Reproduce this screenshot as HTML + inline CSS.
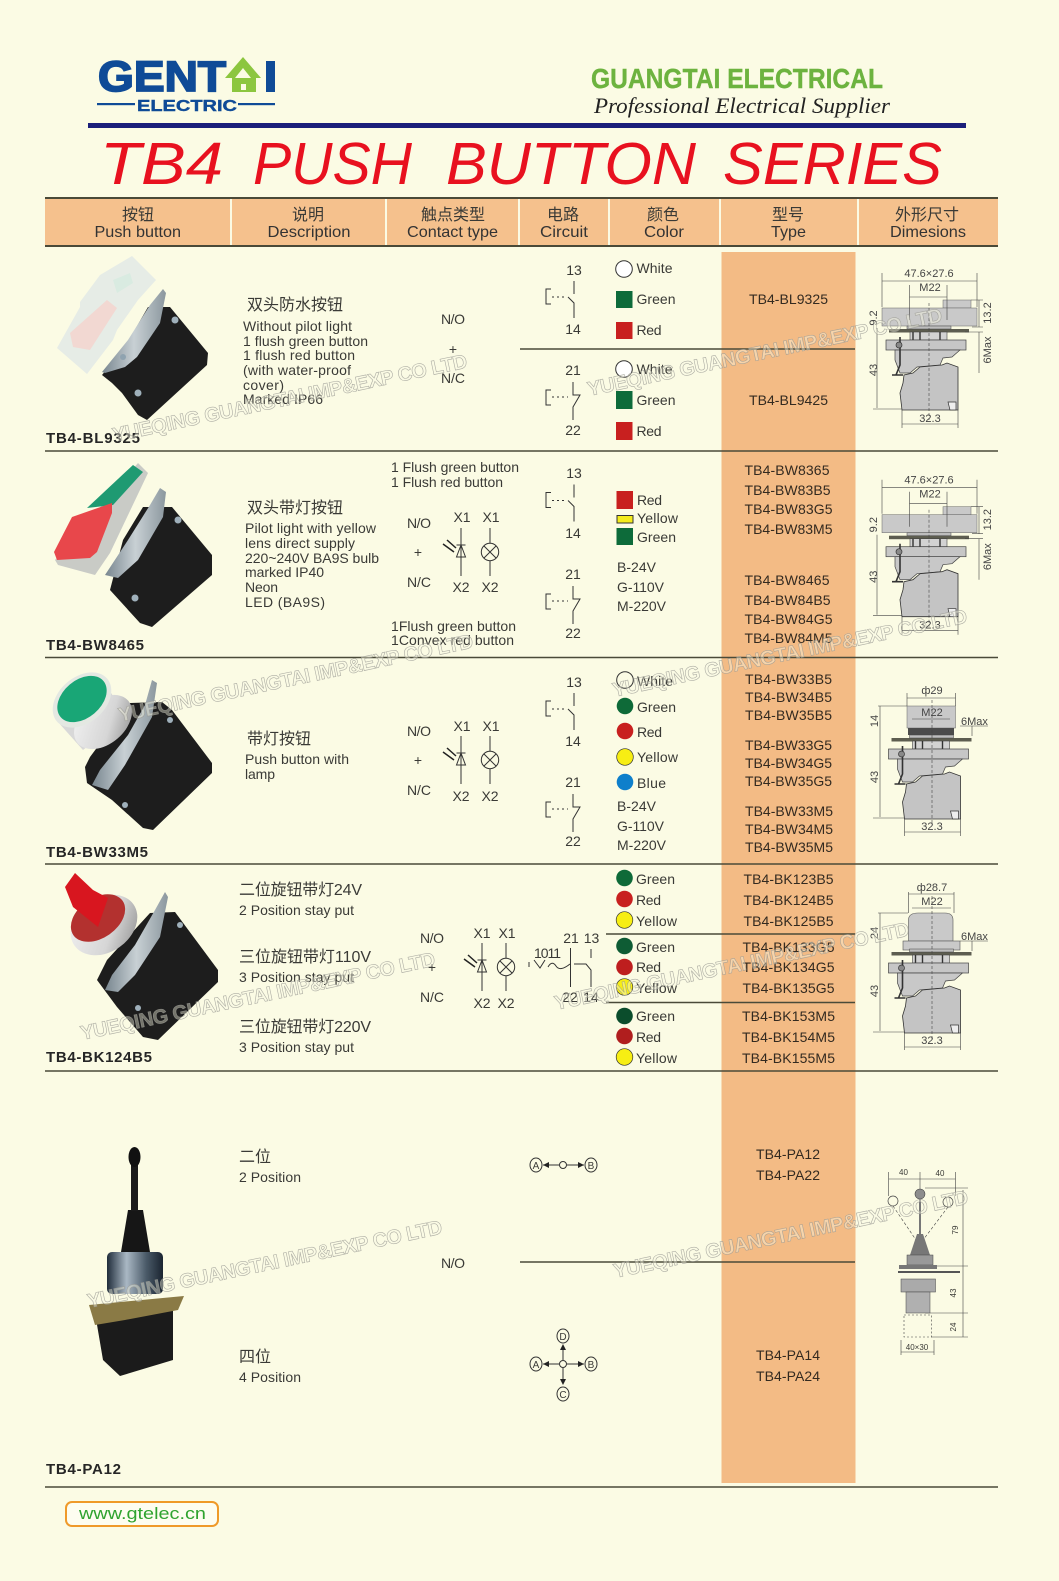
<!DOCTYPE html>
<html><head><meta charset="utf-8"><style>
html,body{margin:0;padding:0;background:#fbfbe4}
svg{display:block}
text{font-family:"Liberation Sans","Noto Sans CJK SC",sans-serif;fill:#3a3a36;font-size:14px}
.z{font-size:16px}
.b{font-weight:bold;font-size:15px;fill:#262626}
.h{font-size:16px;fill:#333}
.c{text-anchor:middle}
.ty{font-size:14px;fill:#332a20}
.d{font-size:11px;fill:#444}
.w{font-weight:bold;font-size:20px;fill:#fbfbe4;fill-opacity:.4;stroke:#9a9a94;stroke-width:.6;stroke-opacity:.8}
.tt{font-size:59px;fill:#e8111f;font-style:italic}
.l{stroke:#4a4a38;stroke-width:1.5}
.k{stroke:#333;stroke-width:1;fill:none}
</style></head><body>
<svg xmlns="http://www.w3.org/2000/svg" width="1059" height="1581" viewBox="0 0 1059 1581">
<defs>
<linearGradient id="sil" x1="0" y1="0" x2="1" y2="1"><stop offset="0" stop-color="#f4f4f4"/><stop offset=".6" stop-color="#d6d6d6"/><stop offset="1" stop-color="#8a8a8a"/></linearGradient>
<linearGradient id="brk" x1="0" y1="0" x2="1" y2="0"><stop offset="0" stop-color="#78868f"/><stop offset=".5" stop-color="#c8d0d4"/><stop offset="1" stop-color="#8b979e"/></linearGradient>
<linearGradient id="cyl" x1="0" y1="0" x2="1" y2="0"><stop offset="0" stop-color="#1f2c3a"/><stop offset=".35" stop-color="#aab8c4"/><stop offset=".7" stop-color="#4a5a68"/><stop offset="1" stop-color="#1a2430"/></linearGradient>
<g id="no"><path class="k" d="M574 281V294M568 297L574 303V318M551 289H546V304H551"/><path class="k" stroke-dasharray="2 3" d="M552 297H567"/></g>
<g id="nc"><path class="k" d="M573 382V395H580L573 407V420M551 390H546V405H551"/><path class="k" stroke-dasharray="2 3" d="M552 397H568"/></g>
<g id="led"><path class="k" d="M0 -24V24M-4.5 -7H4.5M-4.5 5H4.5L0 -7Z"/><path d="M-18 -8L-7 0M-14 -12L-5 -4" stroke="#222" stroke-width="1.5"/></g>
<g id="lamp"><path class="k" d="M0 -24V-9M0 9V24M-6 -6L6 6M6 -6L-6 6"/><circle class="k" r="8.7"/></g>
<g id="low">
<rect x="889" y="329" width="80" height="3.5" fill="#5d5d50"/>
<rect x="907" y="326" width="44" height="3" fill="#bdbdbd" stroke="#444" stroke-width=".5"/>
<rect x="910" y="332" width="37" height="8" fill="#d2d2d2" stroke="#444" stroke-width=".6"/>
<path d="M913 332V340M920 332V340M940 332V340" stroke="#333" stroke-width="1.4"/>
<rect x="886" y="340" width="80" height="10" fill="#c6c6c6" stroke="#444" stroke-width=".7"/>
<path d="M895 350H960L952 357L943 358L940 365L917 367L910 373H900L895 360Z" fill="#c8c8c8" stroke="#444" stroke-width=".7"/>
<path d="M902 410L900 393L903 383L904 375L913 373L920 367L942 365L947 363L958 367V410Z" fill="#c4c4c4" stroke="#333" stroke-width=".8"/>
<path d="M900 337V365L896 375M892 375H903" fill="none" stroke="#333" stroke-width="1.6"/>
<circle cx="899" cy="345" r="3" fill="#888" stroke="#333" stroke-width=".7"/>
<path d="M948 402H956V410H950Z" fill="#eee" stroke="#333" stroke-width=".7"/>
</g>
<g id="dimA">
<rect x="943" y="300" width="28" height="8" fill="#c9c9c9" stroke="#666" stroke-width=".5"/>
<rect x="882" y="308" width="95" height="18" fill="#c9c9c9" stroke="#666" stroke-width=".5"/>
<use href="#low"/>
<path d="M882 273V307M977 273V307M909.5 285V320M947 285V320M882 281H977M909.5 297H947M902 410V428M958 410V428M902 424H958M873 409H902M877 328V408M979 300V327M979 332V373M971 300H983M972 327H983M965 332H983" stroke="#444" stroke-width=".6" fill="none"/>
<path d="M929 303V420" stroke="#444" stroke-width=".6" stroke-dasharray="3 2" fill="none"/>
<text class="d c" x="929" y="277">47.6×27.6</text><text class="d c" x="930" y="291">M22</text><text class="d c" x="930" y="422">32.3</text>
<text class="d c" transform="translate(877 318) rotate(-90)">9.2</text>
<text class="d c" transform="translate(991 313) rotate(-90)">13.2</text>
<text class="d c" transform="translate(991 350) rotate(-90)">6Max</text>
<text class="d c" transform="translate(877 370) rotate(-90)">43</text>
</g>
</defs>
<rect width="1059" height="1581" fill="#fbfbe4"/>

<!-- logo -->
<text x="98" y="91" textLength="128" lengthAdjust="spacingAndGlyphs" style="font-size:43px;font-weight:bold;fill:#0f4b97;stroke:#0f4b97;stroke-width:1.8">GENT</text>
<path d="M243 57L261 78H256V92H232V78H225Z" fill="#8cc63f"/>
<path d="M243 68L235 78H251Z" fill="#fbfbe4"/>
<rect x="241" y="84" width="5" height="6" fill="#fbfbe4"/>
<rect x="266" y="61" width="9" height="31" fill="#0f4b97"/>
<rect x="97" y="103" width="38" height="2.2" fill="#0f4b97"/><rect x="238" y="103" width="37" height="2.2" fill="#0f4b97"/>
<text x="137" y="111" textLength="100" lengthAdjust="spacingAndGlyphs" style="font-size:16px;font-weight:bold;fill:#0f4b97;stroke:#0f4b97;stroke-width:.4">ELECTRIC</text>
<text x="591" y="88" textLength="292" lengthAdjust="spacingAndGlyphs" style="font-size:28px;font-weight:bold;fill:#6db33f;stroke:#6db33f;stroke-width:.4">GUANGTAI ELECTRICAL</text>
<text x="594" y="113" textLength="296" lengthAdjust="spacingAndGlyphs" style="font-family:'Liberation Serif',serif;font-style:italic;font-size:22px;fill:#222">Professional Electrical Supplier</text>
<rect x="88" y="123" width="878" height="5" fill="#1b1f7a"/>
<!-- title -->
<text class="tt" x="100" y="184" textLength="123" lengthAdjust="spacingAndGlyphs">TB4</text>
<text class="tt" x="253" y="184" textLength="159" lengthAdjust="spacingAndGlyphs">PUSH</text>
<text class="tt" x="446" y="184" textLength="250" lengthAdjust="spacingAndGlyphs">BUTTON</text>
<text class="tt" x="723" y="184" textLength="219" lengthAdjust="spacingAndGlyphs">SERIES</text>

<!-- header -->
<rect x="45" y="198" width="953" height="47" fill="#f5c18d"/>
<rect x="45" y="197" width="953" height="2" fill="#4a4a38"/><rect x="45" y="245" width="953" height="2" fill="#4a4a38"/>
<g fill="#fbfbe4"><rect x="230" y="199" width="2" height="46"/><rect x="385" y="199" width="2" height="46"/><rect x="518" y="199" width="2" height="46"/><rect x="608" y="199" width="2" height="46"/><rect x="719" y="199" width="2" height="46"/><rect x="857" y="199" width="2" height="46"/></g>
<text class="z c" x="138" y="220">按钮</text><text class="z c" x="308" y="220">说明</text><text class="z c" x="453" y="220">触点类型</text><text class="z c" x="563" y="220">电路</text><text class="z c" x="663" y="220">颜色</text><text class="z c" x="788" y="220">型号</text><text class="z c" x="927" y="220">外形尺寸</text>
<text class="h" x="94.5" y="237" textLength="86.5" lengthAdjust="spacingAndGlyphs">Push button</text>
<text class="h" x="267.5" y="237" textLength="83" lengthAdjust="spacingAndGlyphs">Description</text>
<text class="h" x="407" y="237" textLength="91" lengthAdjust="spacingAndGlyphs">Contact type</text>
<text class="h" x="540" y="237" textLength="48" lengthAdjust="spacingAndGlyphs">Circuit</text>
<text class="h" x="644" y="237" textLength="40" lengthAdjust="spacingAndGlyphs">Color</text>
<text class="h" x="771" y="237" textLength="35" lengthAdjust="spacingAndGlyphs">Type</text>
<text class="h" x="890" y="237" textLength="76" lengthAdjust="spacingAndGlyphs">Dimesions</text>

<!-- type column -->
<rect x="721.5" y="252" width="134" height="1231" fill="#f3bb85"/>

<!-- lines -->
<g class="l">
<line x1="45" y1="451" x2="998" y2="451"/><line x1="45" y1="657.5" x2="998" y2="657.5"/><line x1="45" y1="864" x2="998" y2="864"/><line x1="45" y1="1071" x2="998" y2="1071"/><line x1="45" y1="1487" x2="998" y2="1487"/>
<line x1="520" y1="349" x2="855" y2="349"/><line x1="606" y1="934" x2="855" y2="934"/><line x1="606" y1="1002.5" x2="855" y2="1002.5"/><line x1="520" y1="1262" x2="855" y2="1262"/>
</g>

<!-- photo 1 -->
<polygon points="148,307 170,307 208,353 207,365 147,420 138,415 122,393 112,383 102,375 125,347" fill="#1d1d1d"/>
<polygon points="163,289 166,293 160,323 137,357 125,367 105,373 102,372 128,340 150,305" fill="url(#brk)"/>
<circle cx="175" cy="320" r="3.5" fill="#9fb0bb"/><circle cx="138" cy="393" r="3.5" fill="#9fb0bb"/><circle cx="123" cy="357" r="3" fill="#8fa3b0"/>
<polygon points="132,256 156,280 138,300 117,330 113,340 87,374 57,348 80,307 80,302 100,275" fill="#e6ece6"/>
<polygon points="70,333 107,300 117,308 90,350 73,347" fill="#f2d8d2"/>
<polygon points="113,280 130,273 133,283 117,293" fill="#d9ebe1"/>
<!-- photo 2 -->
<polygon points="143,507 172,507 212,555 212,575 152,627 140,623 110,590 123,540" fill="#1d1d1d"/>
<polygon points="160,488 166,492 163,517 138,560 118,578 105,575 128,540 150,505" fill="url(#brk)"/>
<circle cx="178" cy="520" r="3.5" fill="#9fb0bb"/><circle cx="135" cy="598" r="3.5" fill="#9fb0bb"/>
<polygon points="138,463 148,473 110,553 95,575 58,565 55,560" fill="#c9cbc6"/>
<polygon points="87,508 133,465 143,472 113,505" fill="#1f9a72"/>
<polygon points="54,552 72,517 112,503 112,513 97,552 90,558 57,560" fill="#e8474b"/>
<!-- photo 3 -->
<polygon points="162,702 172,710 212,763 212,773 153,830 143,828 112,800 87,783 85,767 90,757 130,703" fill="#1d1d1d"/>
<polygon points="152,680 157,683 152,717 125,765 108,790 92,785 100,770 128,735 145,705" fill="url(#brk)"/>
<circle cx="170" cy="720" r="3" fill="#9fb0bb"/><circle cx="125" cy="805" r="3" fill="#9fb0bb"/>
<polygon points="58,722 83,750 126,716 104,682" fill="#d8d8d8"/>
<ellipse cx="103" cy="722" rx="33" ry="22" transform="rotate(-40 103 722)" fill="url(#sil)"/>
<ellipse cx="82" cy="700" rx="33" ry="23" transform="rotate(-40 82 700)" fill="#e4e8e2"/>
<ellipse cx="82" cy="699" rx="28" ry="19" transform="rotate(-40 82 699)" fill="#19a676"/>
<!-- photo 4 -->
<polygon points="175,912 218,970 218,982 158,1040 143,1037 117,1007 97,980 107,960 150,913" fill="#1d1d1d"/>
<polygon points="165,892 168,897 160,937 135,975 118,992 105,990 112,975 135,945 155,910" fill="url(#brk)"/>
<circle cx="180" cy="925" r="3" fill="#9fb0bb"/><circle cx="138" cy="1008" r="3" fill="#9fb0bb"/>
<ellipse cx="104" cy="925" rx="36" ry="27" transform="rotate(-35 104 925)" fill="url(#sil)"/>
<ellipse cx="98" cy="918" rx="30" ry="20" transform="rotate(-35 98 918)" fill="#b3312f"/>
<polygon points="75,873 93,890 108,898 98,927 73,907 65,887" fill="#d8161f"/>
<!-- photo 5 -->
<polygon points="95,1313 173,1308 173,1360 120,1376 103,1360" fill="#1b1b1b"/>
<polygon points="89,1305 184,1296 178,1310 125,1320 95,1325" fill="#8a7a45"/>
<rect x="107" y="1252" width="56" height="42" rx="5" fill="url(#cyl)"/>
<path d="M121 1252L128 1210H143L150 1252Z" fill="#161616"/>
<rect x="131" y="1165" width="7" height="46" fill="#1a1a1a"/>
<ellipse cx="134.5" cy="1157" rx="6" ry="10" fill="#111"/>

<!-- row 1 text -->
<text class="z" x="247" y="310">双头防水按钮</text>
<text x="243" y="331" textLength="109">Without pilot light</text>
<text x="243" y="346" textLength="125">1 flush green button</text>
<text x="243" y="360" textLength="112">1 flush red button</text>
<text x="243" y="375" textLength="108">(with water-proof</text>
<text x="243" y="390" textLength="41">cover)</text>
<text x="243" y="404" textLength="80">Marked IP66</text>
<text x="441" y="324" textLength="24">N/O</text><text class="c" x="453" y="354">+</text><text x="441" y="383" textLength="24">N/C</text>
<text class="b" x="46" y="443" textLength="94">TB4-BL9325</text>
<!-- row 2 text -->
<text x="391" y="472" textLength="128">1 Flush green button</text>
<text x="391" y="487" textLength="112">1 Flush red button</text>
<text class="z" x="247" y="513">双头带灯按钮</text>
<text x="245" y="533" textLength="131">Pilot light with yellow</text>
<text x="245" y="548" textLength="110">lens direct supply</text>
<text x="245" y="563" textLength="134">220~240V BA9S bulb</text>
<text x="245" y="577" textLength="79">marked IP40</text>
<text x="245" y="592" textLength="33">Neon</text>
<text x="245" y="607" textLength="80">LED  (BA9S)</text>
<text x="407" y="528" textLength="24">N/O</text><text class="c" x="418" y="557">+</text><text x="407" y="587" textLength="24">N/C</text>
<text class="c" x="462" y="522">X1</text><text class="c" x="491" y="522">X1</text><text class="c" x="461" y="592">X2</text><text class="c" x="490" y="592">X2</text>
<use href="#led" x="461" y="552"/><use href="#lamp" x="490" y="552"/>
<text x="391" y="631" textLength="125">1Flush green button</text>
<text x="391" y="645" textLength="123">1Convex red button</text>
<text class="b" x="46" y="650" textLength="98">TB4-BW8465</text>
<!-- row 3 text -->
<text class="z" x="247" y="744">带灯按钮</text>
<text x="245" y="764" textLength="104">Push button with</text>
<text x="245" y="779" textLength="30">lamp</text>
<text x="407" y="736" textLength="24">N/O</text><text class="c" x="418" y="765">+</text><text x="407" y="795" textLength="24">N/C</text>
<text class="c" x="462" y="731">X1</text><text class="c" x="491" y="731">X1</text><text class="c" x="461" y="801">X2</text><text class="c" x="490" y="801">X2</text>
<use href="#led" x="461" y="760"/><use href="#lamp" x="490" y="760"/>
<text class="b" x="46" y="857" textLength="102">TB4-BW33M5</text>
<!-- row 4 text -->
<text class="z" x="239" y="895" textLength="123">二位旋钮带灯24V</text>
<text x="239" y="915" textLength="115">2 Position stay put</text>
<text class="z" x="239" y="962" textLength="132">三位旋钮带灯110V</text>
<text x="239" y="982" textLength="115">3 Position stay put</text>
<text class="z" x="239" y="1032" textLength="132">三位旋钮带灯220V</text>
<text x="239" y="1052" textLength="115">3 Position stay put</text>
<text x="420" y="943" textLength="24">N/O</text><text class="c" x="432" y="972">+</text><text x="420" y="1002" textLength="24">N/C</text>
<text class="c" x="482" y="938">X1</text><text class="c" x="507" y="938">X1</text><text class="c" x="482" y="1008">X2</text><text class="c" x="506" y="1008">X2</text>
<use href="#led" x="482" y="967"/><use href="#lamp" x="506" y="967"/>
<text class="b" x="46" y="1062" textLength="106">TB4-BK124B5</text>
<!-- row 5 text -->
<text class="z" x="239" y="1162">二位</text><text x="239" y="1182" textLength="62">2 Position</text>
<text class="z" x="239" y="1362">四位</text><text x="239" y="1382" textLength="62">4 Position</text>
<text x="441" y="1268" textLength="24">N/O</text>
<text class="b" x="46" y="1474" textLength="75">TB4-PA12</text>

<!-- circuits -->
<use href="#no"/><use href="#nc"/>
<use href="#no" y="203.5"/><use href="#nc" y="204"/>
<use href="#no" y="412"/><use href="#nc" y="412"/>
<g text-anchor="middle">
<text x="574" y="275">13</text><text x="573" y="334">14</text><text x="573" y="375">21</text><text x="573" y="435">22</text>
<text x="574" y="478">13</text><text x="573" y="538">14</text><text x="573" y="579">21</text><text x="573" y="638">22</text>
<text x="574" y="687">13</text><text x="573" y="746">14</text><text x="573" y="787">21</text><text x="573" y="846">22</text>
<text x="571" y="943">21</text><text x="591.5" y="943">13</text><text x="570" y="1002">22</text><text x="591" y="1002">14</text>
</g>
<text x="534" y="958" textLength="27">1011</text>
<path class="k" d="M570.5 948V987M591 949V958M574 964H586L591 970V987M529 962V967M534 960L540 968L545 960M548 967Q552 960 556 966T570 964"/>

<!-- swatches row 1 -->
<circle cx="624" cy="269" r="8.3" fill="#fff" stroke="#333"/><rect x="616" y="291" width="16.5" height="17" fill="#0d6b3a"/><rect x="616" y="322" width="16.5" height="17" fill="#c8201f"/>
<circle cx="624" cy="369" r="8.3" fill="#fff" stroke="#333"/><rect x="616" y="391" width="16.5" height="18" fill="#0d6b3a"/><rect x="616" y="422" width="16.5" height="18" fill="#c8201f"/>
<text x="636.5" y="273" textLength="36">White</text><text x="636.5" y="304" textLength="39">Green</text><text x="636.5" y="335" textLength="25">Red</text>
<text x="636.5" y="374" textLength="36">White</text><text x="636.5" y="405" textLength="39">Green</text><text x="636.5" y="436" textLength="25">Red</text>
<!-- swatches row 2 -->
<rect x="616.5" y="491" width="16.5" height="18" fill="#c8201f"/><rect x="617" y="515.5" width="16" height="7.5" fill="#f4ec1c" stroke="#333"/><rect x="616.5" y="528" width="16.5" height="17" fill="#0d6b3a"/>
<text x="637" y="505" textLength="25">Red</text><text x="637" y="523" textLength="41">Yellow</text><text x="637" y="542" textLength="39">Green</text>
<text x="617" y="572" textLength="39">B-24V</text><text x="617" y="592" textLength="47">G-110V</text><text x="617" y="611" textLength="49">M-220V</text>
<!-- swatches row 3 -->
<circle cx="625" cy="680" r="8.3" fill="#fbfbe4" stroke="#333"/><circle cx="625" cy="706" r="8.3" fill="#0e6a38"/><circle cx="625" cy="731" r="8.3" fill="#c8201f"/><circle cx="625" cy="757" r="8.3" fill="#f7ee13" stroke="#333" stroke-width=".7"/><circle cx="625" cy="782" r="8.3" fill="#0e7fcb"/>
<text x="637" y="686" textLength="36">White</text><text x="637" y="712" textLength="39">Green</text><text x="637" y="737" textLength="25">Red</text><text x="637" y="762" textLength="41">Yellow</text><text x="637" y="788" textLength="29">Blue</text>
<text x="617" y="811" textLength="39">B-24V</text><text x="617" y="831" textLength="47">G-110V</text><text x="617" y="850" textLength="49">M-220V</text>
<!-- swatches row 4 -->
<circle cx="624.5" cy="878" r="8.3" fill="#0e6a38"/><circle cx="624.5" cy="899" r="8.3" fill="#c8201f"/><circle cx="624.5" cy="920" r="8.3" fill="#f7ee13" stroke="#333" stroke-width=".7"/>
<circle cx="624.5" cy="946" r="8.3" fill="#0e5c34"/><circle cx="624.5" cy="967" r="8.3" fill="#be1e1e"/><circle cx="624.5" cy="987" r="8.3" fill="#f7ee13" stroke="#333" stroke-width=".7"/>
<circle cx="624.5" cy="1016" r="8.3" fill="#0b4d2c"/><circle cx="624.5" cy="1036" r="8.3" fill="#b01e1e"/><circle cx="624.5" cy="1057" r="8.3" fill="#f7ee13" stroke="#333" stroke-width=".7"/>
<text x="636" y="884" textLength="39">Green</text><text x="636" y="905" textLength="25">Red</text><text x="636" y="926" textLength="41">Yellow</text>
<text x="636" y="952" textLength="39">Green</text><text x="636" y="972" textLength="25">Red</text><text x="636" y="993" textLength="41">Yellow</text>
<text x="636" y="1021" textLength="39">Green</text><text x="636" y="1042" textLength="25">Red</text><text x="636" y="1063" textLength="41">Yellow</text>

<!-- types -->
<text class="ty" x="749" y="304" textLength="79">TB4-BL9325</text><text class="ty" x="749" y="405" textLength="79">TB4-BL9425</text>
<text class="ty" x="744.5" y="475" textLength="85">TB4-BW8365</text><text class="ty" x="744.5" y="495" textLength="86">TB4-BW83B5</text><text class="ty" x="744.5" y="514" textLength="88">TB4-BW83G5</text><text class="ty" x="744.5" y="534" textLength="88">TB4-BW83M5</text>
<text class="ty" x="744.5" y="585" textLength="85">TB4-BW8465</text><text class="ty" x="744.5" y="605" textLength="86">TB4-BW84B5</text><text class="ty" x="744.5" y="624" textLength="88">TB4-BW84G5</text><text class="ty" x="744.5" y="643" textLength="88">TB4-BW84M5</text>
<text class="ty" x="745" y="684" textLength="87">TB4-BW33B5</text><text class="ty" x="745" y="702" textLength="87">TB4-BW34B5</text><text class="ty" x="745" y="720" textLength="87">TB4-BW35B5</text>
<text class="ty" x="745" y="750" textLength="87">TB4-BW33G5</text><text class="ty" x="745" y="768" textLength="87">TB4-BW34G5</text><text class="ty" x="745" y="786" textLength="87">TB4-BW35G5</text>
<text class="ty" x="745" y="816" textLength="88">TB4-BW33M5</text><text class="ty" x="745" y="834" textLength="88">TB4-BW34M5</text><text class="ty" x="745" y="852" textLength="88">TB4-BW35M5</text>
<text class="ty" x="743.5" y="884" textLength="90">TB4-BK123B5</text><text class="ty" x="743.5" y="905" textLength="90">TB4-BK124B5</text><text class="ty" x="743.5" y="926" textLength="90">TB4-BK125B5</text>
<text class="ty" x="742.5" y="952" textLength="92">TB4-BK133G5</text><text class="ty" x="742.5" y="972" textLength="92">TB4-BK134G5</text><text class="ty" x="742.5" y="993" textLength="92">TB4-BK135G5</text>
<text class="ty" x="742" y="1021" textLength="93">TB4-BK153M5</text><text class="ty" x="742" y="1042" textLength="93">TB4-BK154M5</text><text class="ty" x="742" y="1063" textLength="93">TB4-BK155M5</text>
<text class="ty" x="756" y="1159" textLength="64">TB4-PA12</text><text class="ty" x="756" y="1180" textLength="64">TB4-PA22</text>
<text class="ty" x="756" y="1360" textLength="64">TB4-PA14</text><text class="ty" x="756" y="1381" textLength="64">TB4-PA24</text>

<!-- position symbols -->
<g fill="none" stroke="#333">
<ellipse cx="536" cy="1165" rx="6" ry="7"/><circle cx="563" cy="1165" r="3.5"/><ellipse cx="591" cy="1165" rx="6" ry="7"/>
<path d="M543 1165H559M567 1165H584"/>
<ellipse cx="536" cy="1364" rx="6" ry="7"/><circle cx="563" cy="1364" r="3.5"/><ellipse cx="591" cy="1364" rx="6" ry="7"/><ellipse cx="563" cy="1336" rx="6" ry="7"/><ellipse cx="563" cy="1394" rx="6" ry="7"/>
<path d="M543 1364H559M567 1364H584M563 1347V1360M563 1368V1383"/>
</g>
<path fill="#222" d="M543 1165L549 1162V1168ZM584 1165L578 1162V1168ZM543 1364L549 1361V1367ZM584 1364L578 1361V1367ZM563 1344L560 1350H566ZM563 1385L560 1379H566Z"/>
<text class="c" x="536" y="1169" style="font-size:10px">A</text><text class="c" x="591" y="1169" style="font-size:10px">B</text>
<text class="c" x="536" y="1368" style="font-size:10px">A</text><text class="c" x="591" y="1368" style="font-size:10px">B</text>
<text class="c" x="563" y="1340" style="font-size:10px">D</text><text class="c" x="563" y="1398" style="font-size:10px">C</text>

<!-- dims rows 1, 2 -->
<use href="#dimA"/>
<use href="#dimA" y="206.7"/>
<!-- dim row 3 -->
<rect x="907" y="706" width="48.5" height="22" fill="#c9c9c9" stroke="#666" stroke-width=".5"/>
<rect x="908" y="728" width="46" height="7" fill="#4b4b4b"/>
<use href="#low" x="2.5" y="409"/>
<path d="M907 693V706M955.5 693V706M907 698H955.5M912 719H950M904.5 819V836M960.5 819V836M904.5 832H960.5M878 706H907M880 706V817M873 818H904M972 726V736M960 726H988" stroke="#444" stroke-width=".6" fill="none"/>
<path d="M932 700V825" stroke="#444" stroke-width=".6" stroke-dasharray="3 2" fill="none"/>
<text class="d c" x="932" y="694">ф29</text><text class="d c" x="932" y="716">M22</text><text class="d" x="961" y="725">6Max</text><text class="d c" x="932" y="830">32.3</text>
<text class="d c" transform="translate(878 721) rotate(-90)">14</text><text class="d c" transform="translate(878 777) rotate(-90)">43</text>
<!-- dim row 4 -->
<path d="M908.5 941V920Q908.5 913 918 913H945Q953 913 953 920V941Z" fill="#c9c9c9" stroke="#555" stroke-width=".6"/>
<rect x="903" y="941" width="57" height="9" fill="#c9c9c9" stroke="#555" stroke-width=".6"/>
<use href="#low" x="2.5" y="623"/>
<path d="M908.5 892V913M954 892V913M908.5 894H954M912 908H951M904.5 1033V1050M960.5 1033V1050M904.5 1047H960.5M878 913H908M880 913V1031M873 1032H904M972 941V951M960 941H988" stroke="#444" stroke-width=".6" fill="none"/>
<path d="M932 896V1040" stroke="#444" stroke-width=".6" stroke-dasharray="3 2" fill="none"/>
<text class="d c" x="932" y="891">ф28.7</text><text class="d c" x="932" y="905">M22</text><text class="d" x="961" y="940">6Max</text><text class="d c" x="932" y="1044">32.3</text>
<text class="d c" transform="translate(878 933) rotate(-90)">24</text><text class="d c" transform="translate(878 991) rotate(-90)">43</text>
<!-- dim joystick -->
<g stroke="#444" stroke-width=".6" fill="none">
<path d="M888.6 1172V1196M920 1172V1190M955.5 1172V1196M888.6 1179H955.5M963 1190V1337M925 1188H968M905 1266H968M925 1313H968M931 1337H968M901 1340V1355M934 1340V1355M901 1352H934"/>
<path d="M893 1206L916 1240M948 1207L923 1240" stroke-dasharray="3 2"/>
<rect x="904" y="1315" width="27.5" height="22" stroke-dasharray="2 2"/>
</g>
<circle cx="920" cy="1194" r="5" fill="#8d8d8d" stroke="#444" stroke-width=".6"/>
<circle cx="893" cy="1201" r="5" fill="#fbfbe4" stroke="#444" stroke-width=".7"/>
<circle cx="948" cy="1202" r="5" fill="#fbfbe4" stroke="#444" stroke-width=".7"/>
<rect x="919" y="1198" width="2" height="36" fill="#777"/>
<path d="M917 1234H923L930 1255H910Z" fill="#777"/>
<rect x="907" y="1255" width="26" height="10" fill="#999" stroke="#444" stroke-width=".5"/>
<rect x="899" y="1265" width="38" height="4" fill="#777"/>
<rect x="898" y="1271" width="62" height="2" fill="#555"/>
<rect x="901" y="1279" width="34.5" height="13" fill="#aaa" stroke="#444" stroke-width=".5"/>
<rect x="906" y="1292" width="24" height="21" fill="#b0b0b0" stroke="#444" stroke-width=".5"/>
<text class="c" x="903.5" y="1175" style="font-size:8px">40</text><text class="c" x="940" y="1176" style="font-size:8px">40</text>
<text class="c" transform="translate(958 1230) rotate(-90)" style="font-size:8px">79</text>
<text class="c" transform="translate(956 1293) rotate(-90)" style="font-size:8px">43</text>
<text class="c" transform="translate(956 1327) rotate(-90)" style="font-size:8px">24</text>
<text class="c" x="917" y="1350" style="font-size:8px">40×30</text>

<!-- website -->
<rect x="66" y="1502" width="152" height="24" rx="6" fill="#fdfdf0" stroke="#ef9a2a" stroke-width="2"/>
<text x="79" y="1519" textLength="127" lengthAdjust="spacingAndGlyphs" style="font-size:17px;fill:#2fa32f">www.gtelec.cn</text>

<!-- watermarks -->
<text class="w" transform="translate(114 442) rotate(-11.9)" textLength="362">YUEQING GUANGTAI IMP&amp;EXP CO LTD</text>
<text class="w" transform="translate(589 396) rotate(-11.9)" textLength="362">YUEQING GUANGTAI IMP&amp;EXP CO LTD</text>
<text class="w" transform="translate(120 722) rotate(-11.9)" textLength="362">YUEQING GUANGTAI IMP&amp;EXP CO LTD</text>
<text class="w" transform="translate(614 697) rotate(-11.9)" textLength="362">YUEQING GUANGTAI IMP&amp;EXP CO LTD</text>
<text class="w" transform="translate(82 1040) rotate(-11.9)" textLength="362">YUEQING GUANGTAI IMP&amp;EXP CO LTD</text>
<text class="w" transform="translate(556 1010) rotate(-11.9)" textLength="362">YUEQING GUANGTAI IMP&amp;EXP CO LTD</text>
<text class="w" transform="translate(89 1308) rotate(-11.9)" textLength="362">YUEQING GUANGTAI IMP&amp;EXP CO LTD</text>
<text class="w" transform="translate(615 1278) rotate(-11.9)" textLength="362">YUEQING GUANGTAI IMP&amp;EXP CO LTD</text>
</svg>
</body></html>
